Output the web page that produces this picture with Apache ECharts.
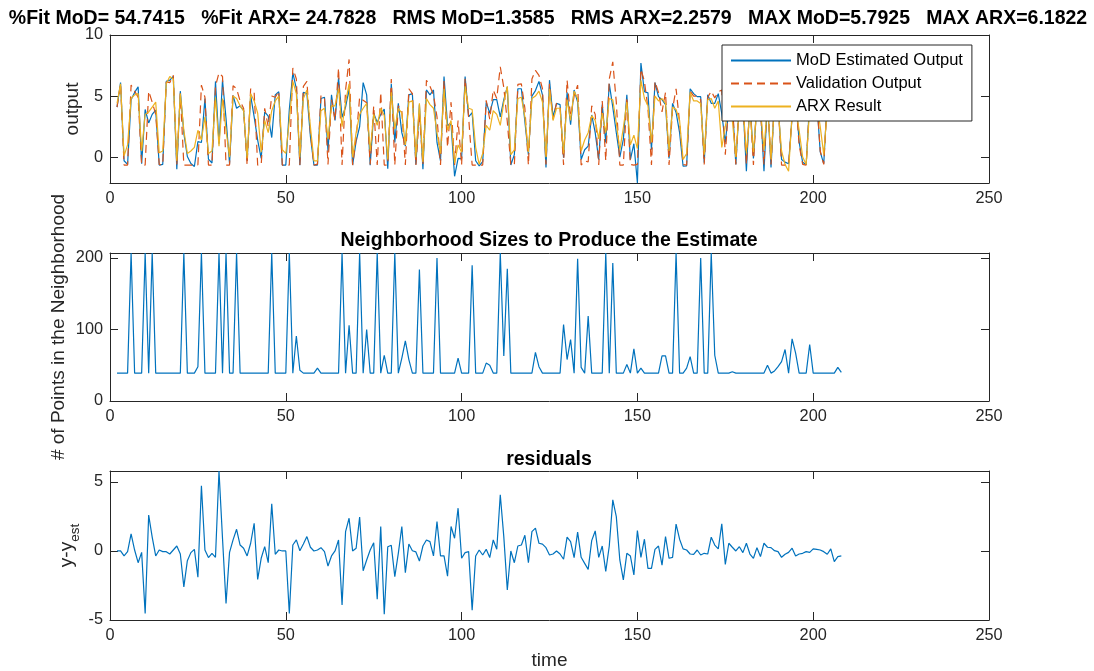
<!DOCTYPE html>
<html>
<head>
<meta charset="utf-8">
<script src="https://cdn.jsdelivr.net/npm/echarts@6/dist/echarts.min.js"></script>
<style>html,body{margin:0;padding:0;background:#fff}#c{width:1094px;height:671px}</style>
</head>
<body>
<div id="c"></div>
<script>
// ---------------- data ----------------
const timeStart = 2; // first time index of every series
const xTicks = [0, 50, 100, 150, 200, 250];
const outputTicks = [0, 5, 10];
const neighborTicks = [0, 100, 200];
const residualTicks = [-5, 0, 5];

const headline = '%Fit MoD= 54.7415   %Fit ARX= 24.7828   RMS MoD=1.3585   RMS ARX=2.2579   MAX MoD=5.7925   MAX ARX=6.1822';
const seriesNames = ['MoD Estimated Output', 'Validation Output', 'ARX Result'];

const validationOutput = [
  4.1, 6.0, -0.65, -0.65, 5.9, 5.4, 4.9, -0.65, -0.65, 5.4,
  4.5, 3.5, -0.6, -0.65, 6.15, 6.1, 6.7, -0.65, 5.2, -0.65,
  -0.65, -0.65, -0.65, -0.63, 5.9, 4.9, -0.65, -0.65, 5.8, 6.9,
  6.6, -0.65, -0.65, 5.85, 5.6, 4.6, 4.0, -0.65, 5.6, 5.3,
  -0.65, -0.65, 4.0, 2.5, 5.0, 4.9, 5.4, -0.65, -0.65, -0.65,
  7.3, 6.4, -0.65, 5.8, 6.2, 2.0, -0.65, -0.58, 5.05, 4.85,
  -0.6, 4.7, 3.0, 7.3, -0.65, 5.5, 8.0, -0.65, 1.5, 4.9,
  4.65, 4.45, -0.6, 4.2, -0.65, 5.3, -0.65, -0.65, 6.4, -0.65,
  4.2, 3.8, -0.65, 5.6, 5.2, -0.65, 3.55, -0.65, 6.3, 5.8,
  5.1, 3.3, -0.65, 6.25, 0.8, 4.5, -0.65, 3.0, -0.65, 6.45,
  3.25, -0.65, -0.65, -0.65, -0.65, 4.65, 3.1, 5.5, 4.8, 7.4,
  5.7, 2.9, -0.65, -0.65, 5.95, 6.0, 4.0, -0.65, 6.4, 7.1,
  6.7, 5.6, -0.6, 6.0, 3.1, 4.4, 4.1, -0.65, 6.3, 3.3,
  5.0, 5.9, -0.65, -0.3, -0.4, 4.2, 3.5, -0.65, 4.6, -0.3,
  6.4, 7.8, 4.5, -0.65, -0.65, 4.9, -0.6, -0.65, -0.6, 7.2,
  6.2, 4.0, -0.65, 6.2, 5.3, 3.7, 5.3, -0.65, 3.95, 5.6,
  2.85, -0.6, -0.65, 5.4, 5.0, 5.0, 4.7, -0.6, 4.9, 5.4,
  4.85, 5.35, 5.5, 0.2, 4.5, 4.6, -0.6, 4.8, 4.5, -0.6,
  4.5, -0.65, 4.8, 3.8, -0.6, 5.0, -0.6, 4.7, 4.5, -0.65,
  -0.65, -0.65, 3.5, 4.9, 1.0, -0.6, -0.65, 4.5, 5.0, 4.8,
  0.5, -0.6, 4.6, 5.2, 4.3, 4.8, 5.0
];

const modEstimate = [
  4.1, 6.1, -0.3, -0.6, 4.7, 5.3, 5.75, -0.55, 3.9, 2.8,
  3.5, 3.85, -0.65, -0.6, 6.2, 6.3, 6.6, -1.0, 5.4, 1.95,
  0.05, -0.53, -0.77, 1.27, 1.2, 4.8, -0.17, -0.48, 6.2, 1.1,
  6.3, 3.15, -0.55, 5.05, 4.0, 4.2, 3.8, -0.3, 5.05, 3.3,
  1.4, -0.1, 3.7, 3.35, 1.6, 5.1, 5.35, -0.65, -0.65, 3.9,
  6.9, 5.6, -0.67, 5.3, 5.2, 1.7, -0.65, -0.65, 4.8, 4.9,
  0.5, 5.1, 3.0, 6.5, 3.27, 4.1, 5.6, -0.65, 1.3, 2.5,
  6.1, 5.1, -0.67, 3.6, 2.84, 3.5, 3.93, -0.96, 6.0, 1.2,
  4.4, 2.0, 0.9, 5.1, 5.2, -0.6, 4.3, -1.0, 5.5, 5.1,
  5.5, 1.2, -0.3, 6.6, 2.6, 2.7, -1.57, -0.1, -0.12, 6.6,
  3.3, 3.64, -0.3, -0.72, -0.36, 4.5, 3.6, 4.7, 4.7, 3.3,
  4.7, 5.75, -0.65, 0.2, 5.6, 5.6, 2.9, 0.2, 5.0, 5.45,
  6.2, 5.1, -0.84, 6.3, 3.3, 4.4, 4.3, -0.05, 5.3, 2.65,
  5.5, 4.5, -0.2, 0.6, 0.9, 3.45, 2.0, -0.2, 4.3, 1.2,
  6.0, 4.1, 2.0, 0.0, 1.45, 5.1, -0.2, 1.1, -2.12, 7.7,
  5.35, 5.26, 0.6, 6.1, 4.95, 4.7, 4.3, -0.12, 4.4, 3.66,
  2.0, -0.75, -0.72, 5.6, 5.2, 4.95, 4.95, -0.45, 5.1, 4.4,
  4.4, 5.2, 3.55, 1.2, 3.9, 4.3, -0.6, 4.5, 4.6, -1.16,
  4.7, -0.12, 4.56, 4.2, -1.16, 4.73, -0.84, 4.68, 4.55, -0.19,
  -0.41, -0.55, 3.3, 5.26, 1.22, -0.43, -0.6, 4.6, 4.85, 4.68,
  0.43, -0.55, 4.84, 5.05, 5.07, 5.21, 5.36
];

const arxResult = [
  4.4, 6.0, 0.1, 1.0, 4.8, 5.1, 5.2, 0.5, 3.5, 3.7,
  4.1, 4.5, 0.35, 0.5, 6.0, 6.6, 6.4, -0.3, 5.2, 2.2,
  0.3, 0.5, 0.8, 2.2, 1.4, 3.3, 0.3, 0.5, 4.9, 0.9,
  4.8, 2.2, 0.0, 5.0, 4.8, 4.2, 3.8, -0.1, 5.2, 4.6,
  3.6, 0.4, 3.0, 2.0, 3.8, 4.6, 5.0, 0.6, 0.3, 3.0,
  6.2, 5.2, 0.0, 4.8, 5.5, 2.5, -0.3, -0.3, 3.8, 4.0,
  1.5, 4.2, 4.2, 5.6, 2.5, 4.5, 6.0, 0.0, 2.0, 3.5,
  4.0, 4.4, 0.5, 3.5, 2.6, 4.0, 3.4, -0.2, 5.3, 2.3,
  4.0, 3.6, 1.0, 4.5, 4.6, 0.0, 4.4, -0.4, 4.8, 4.3,
  4.0, 2.0, 0.3, 5.6, 2.2, 3.0, -0.5, 1.0, 0.4, 5.8,
  4.0, 3.9, 0.8, -0.6, 0.3, 2.6, 2.2, 3.8, 3.5, 2.6,
  4.5, 5.8, 0.2, 0.6, 4.8, 4.9, 3.3, 0.4, 4.8, 5.0,
  5.4, 4.5, 0.0, 5.6, 3.0, 4.0, 4.0, 0.3, 4.7, 3.0,
  5.4, 4.8, 0.5, 1.4, 2.0, 3.4, 3.0, 1.5, 3.6, 2.0,
  4.8, 4.7, 2.8, 0.6, 2.4, 4.5, 1.0, 1.8, 0.7, 6.3,
  4.8, 4.2, 1.2, 5.0, 4.6, 4.8, 4.4, 0.5, 4.1, 3.9,
  3.0, -0.2, 0.3, 5.3, 4.6, 4.6, 4.4, 0.2, 4.7, 4.8,
  4.0, 4.6, 0.8, 2.5, 4.2, 3.0, 0.0, 4.2, 4.4, 0.3,
  3.8, 0.4, 4.3, 4.0, 0.6, 4.4, -0.2, 4.3, 4.0, 0.5,
  -0.6, -1.15, 3.5, 4.2, 2.2, 0.0, -0.6, 4.0, 4.5, 4.4,
  2.5, 0.2, 4.0, 4.6, 4.4, 4.5, 4.6
];

const neighborhoodSizes = [
  39, 39, 39, 39, 207, 39, 39, 39, 207, 39,
  207, 39, 39, 39, 39, 39, 39, 39, 39, 207,
  39, 39, 39, 48, 207, 39, 39, 39, 39, 207,
  39, 207, 39, 39, 207, 39, 39, 39, 39, 39,
  39, 39, 39, 39, 207, 39, 39, 39, 39, 207,
  39, 91, 43, 39, 39, 39, 39, 46, 39, 39,
  39, 39, 39, 39, 207, 39, 106, 39, 39, 207,
  39, 100, 39, 39, 207, 39, 64, 39, 39, 207,
  39, 60, 84, 58, 39, 39, 184, 39, 39, 39,
  39, 200, 39, 39, 39, 39, 39, 60, 39, 39,
  39, 190, 39, 39, 39, 53, 50, 39, 39, 207,
  63, 185, 39, 39, 39, 39, 39, 39, 39, 68,
  48, 39, 39, 39, 39, 39, 39, 107, 58, 86,
  39, 199, 47, 39, 119, 39, 39, 39, 39, 207,
  39, 193, 39, 39, 39, 51, 39, 73, 39, 46,
  39, 39, 39, 39, 39, 63, 63, 39, 39, 207,
  39, 39, 46, 62, 39, 39, 200, 39, 39, 207,
  64, 39, 39, 39, 39, 41, 39, 39, 39, 39,
  39, 39, 39, 39, 39, 50, 39, 42, 48, 55,
  72, 39, 87, 67, 39, 39, 39, 79, 39, 39,
  39, 39, 39, 39, 39, 47, 40
];

const residuals = [
  0.0, 0.0, -0.36, -0.05, 1.23, 0.07, -0.85, -0.1, -4.53, 2.6,
  1.0, -0.36, 0.07, -0.05, -0.05, -0.22, 0.07, 0.36, -0.22, -2.6,
  -0.7, -0.12, 0.12, -1.9, 4.72, 0.07, -0.48, -0.17, -0.46, 5.79,
  0.9, -3.8, -0.1, 0.8, 1.57, 0.43, 0.2, -0.36, 0.56, 2.0,
  -2.06, -0.53, 0.31, -0.85, 3.41, -0.24, 0.07, 0.0, 0.0, -4.53,
  0.43, 0.8, 0.02, 0.5, 1.04, 0.27, 0.0, 0.07, 0.24, -0.05,
  -1.09, -0.36, 0.0, 0.8, -3.92, 1.4, 2.37, 0.0, 0.2, 2.45,
  -1.43, -0.65, 0.07, 0.6, -3.49, 1.77, -4.58, 0.31, 0.41, -1.86,
  -0.17, 1.77, -1.57, 0.5, 0.02, -0.07, -0.73, 0.36, 0.8, 0.68,
  -0.36, 2.13, -0.36, -0.36, -1.82, 1.77, 0.92, 3.1, -0.53, -0.12,
  -0.05, -4.29, -0.36, 0.07, -0.29, 0.12, -0.48, 0.8, 0.12, 4.07,
  1.04, -2.83, 0.0, -0.85, 0.36, 0.43, 1.14, -0.85, 1.4, 1.65,
  0.56, 0.5, 0.24, -0.29, -0.22, 0.0, -0.22, -0.6, 1.0, 0.68,
  -0.48, 1.36, -0.46, -0.9, -1.33, 0.75, 1.45, -0.46, 0.36, -1.48,
  0.36, 3.7, 2.49, -0.65, -2.1, -0.17, -0.36, -1.74, 1.48, -0.46,
  0.85, -1.26, -1.26, 0.12, 0.36, -1.02, 1.04, -0.53, -0.46, 1.94,
  0.85, 0.15, 0.07, -0.22, -0.24, 0.07, -0.29, -0.17, -0.22, 1.0,
  0.43, 0.15, 1.96, -0.97, 0.56, 0.27, 0.0, 0.31, -0.12, 0.56,
  -0.22, -0.53, 0.24, -0.41, 0.56, 0.27, 0.24, 0.02, -0.05, -0.46,
  -0.24, -0.1, 0.2, -0.36, -0.22, -0.17, -0.05, -0.1, 0.15, 0.12,
  0.07, -0.05, -0.24, 0.15, -0.77, -0.41, -0.36
];

// ---------------- chart ----------------
const AX = '#262626';
const FONT = '"Liberation Sans", Arial, Helvetica, sans-serif';
const BLUE = '#0072BD', ORANGE = '#D95319', YELLOW = '#EDB120';
const TICK_FS = 16.3, NAME_FS = 19, TITLE_FS = 19.5;
const pairs = arr => arr.map((v, i) => [timeStart + i, v]);

const grids = [
  { left: 110, right: 105, top: 35, height: 148 },
  { left: 110, right: 105, top: 253, height: 148 },
  { left: 110, right: 105, top: 471, height: 149 }
];
const yRanges = [
  { min: -2.12, max: 10, ticks: outputTicks },
  { min: 0, max: 207, ticks: neighborTicks },
  { min: -5, max: 5.7925, ticks: residualTicks }
];

const xAxes = [], yAxes = [];
grids.forEach((g, gi) => {
  ['bottom', 'top'].forEach(pos => {
    xAxes.push({
      type: 'value', gridIndex: gi, position: pos, min: 0, max: 250, interval: 50,
      axisLine: { show: true, onZero: false, lineStyle: { color: AX, width: 1 } },
      axisTick: { show: true, inside: true, length: 8, customValues: xTicks, lineStyle: { color: AX, width: 1 } },
      axisLabel: { show: pos === 'bottom', margin: 8, fontSize: TICK_FS, fontFamily: FONT, color: AX, customValues: xTicks },
      splitLine: { show: false }
    });
  });
  ['left', 'right'].forEach(pos => {
    const r = yRanges[gi];
    yAxes.push({
      type: 'value', gridIndex: gi, position: pos, min: r.min, max: r.max,
      axisLine: { show: true, onZero: false, lineStyle: { color: AX, width: 1 } },
      axisTick: { show: true, inside: true, length: 8, customValues: r.ticks, lineStyle: { color: AX, width: 1 } },
      axisLabel: { show: pos === 'left', margin: 7, fontSize: TICK_FS, fontFamily: FONT, color: AX, customValues: r.ticks },
      splitLine: { show: false }
    });
  });
});

function setName(ax, name, gap, style) {
  ax.name = name;
  ax.nameLocation = 'middle';
  ax.nameGap = gap;
  ax.nameMoveOverlap = false;
  ax.nameTextStyle = style || { fontSize: NAME_FS, fontFamily: FONT, color: AX };
}
setName(xAxes[4], 'time', 31);
setName(yAxes[0], 'output', 28);
setName(yAxes[2], '# of Points in the Neighborhood', 42);
setName(yAxes[4], '{a|y-y}{s|est}', 28, {
  fontFamily: FONT, color: AX,
  rich: {
    a: { fontSize: NAME_FS, fontFamily: FONT, color: AX, padding: [0, 0, 6, 0], verticalAlign: 'bottom' },
    s: { fontSize: 13.5, fontFamily: FONT, color: AX, verticalAlign: 'bottom' }
  }
});

const lineSeries = (name, data, color, xi, yi, dashed, z) => ({
  name, type: 'line', xAxisIndex: xi, yAxisIndex: yi, data: pairs(data),
  symbol: 'none', showSymbol: false, clip: true, z,
  lineStyle: { color, width: 1.2, type: dashed ? [8, 5] : 'solid' },
  itemStyle: { color },
  emphasis: { disabled: true }
});

const titleStyle = (text) => ({
  text, font: 'bold ' + TITLE_FS + 'px "Liberation Sans", Arial, sans-serif', fill: '#000',
  align: 'center', verticalAlign: 'middle', textAlign: 'center', textVerticalAlign: 'middle'
});

const option = {
  animation: false,
  backgroundColor: '#ffffff',
  grid: grids,
  xAxis: xAxes,
  yAxis: yAxes,
  legend: {
    data: seriesNames,
    orient: 'vertical', left: 722, top: 45,
    backgroundColor: '#ffffff', borderColor: AX, borderWidth: 1, borderRadius: 0,
    padding: [7, 9, 6, 8], itemWidth: 60, itemHeight: 14, itemGap: 6,
    itemStyle: { opacity: 0 },
    textStyle: { fontSize: 16.5, fontFamily: FONT, color: '#000' },
    selectedMode: false, z: 10
  },
  graphic: [
    { type: 'text', x: 548, y: 19, z: 100, style: titleStyle(headline) },
    { type: 'text', x: 549, y: 241, z: 100, style: titleStyle('Neighborhood Sizes to Produce the Estimate') },
    { type: 'text', x: 549, y: 460, z: 100, style: titleStyle('residuals') }
  ],
  series: [
    lineSeries(seriesNames[0], modEstimate, BLUE, 0, 0, false, 2),
    lineSeries(seriesNames[1], validationOutput, ORANGE, 0, 0, true, 3),
    lineSeries(seriesNames[2], arxResult, YELLOW, 0, 0, false, 4),
    lineSeries('neighborhood', neighborhoodSizes, BLUE, 2, 2, false, 2),
    lineSeries('residuals', residuals, BLUE, 4, 4, false, 2)
  ]
};

const chart = echarts.init(document.getElementById('c'), null, { renderer: 'canvas' });
chart.setOption(option);
</script>
</body>
</html>
